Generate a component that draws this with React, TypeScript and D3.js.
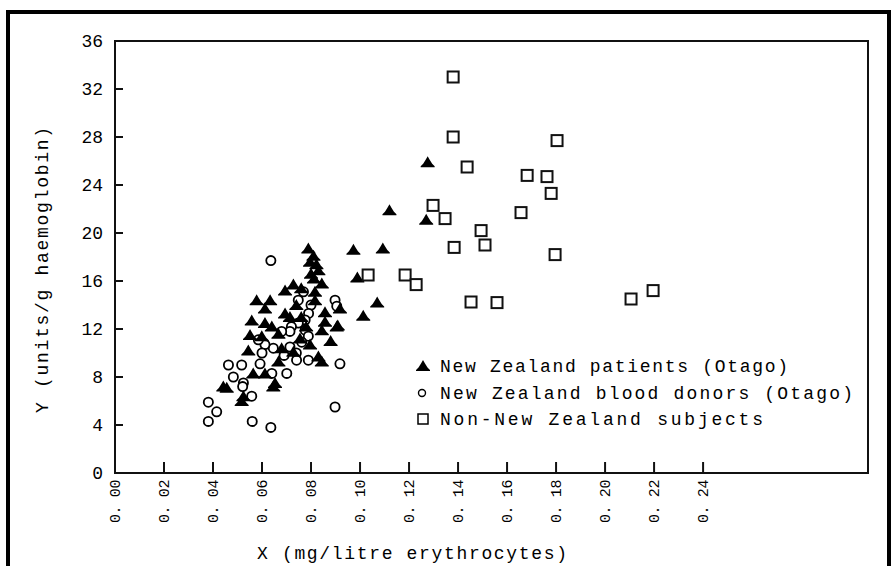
import React from 'react';
import * as d3 from 'd3';

// Axis ticks
const yTicks = [0, 4, 8, 12, 16, 20, 24, 28, 32, 36];
const xTicks = [0, 0.02, 0.04, 0.06, 0.08, 0.1, 0.12, 0.14, 0.16, 0.18, 0.2, 0.22, 0.24];

// New Zealand patients (Otago)
const patients: [number, number][] = [
  [0.1276, 25.9], [0.112, 21.9], [0.127, 21.1], [0.0973, 18.6], [0.1093, 18.7],
  [0.0989, 16.3], [0.107, 14.2], [0.1013, 13.1], [0.0909, 12.3],
  [0.0789, 18.7], [0.081, 18.1], [0.0796, 17.6], [0.0822, 17.4], [0.083, 16.9],
  [0.08, 16.6], [0.0812, 16.2],
  [0.0694, 15.2], [0.0728, 15.7], [0.0844, 15.8], [0.0816, 15.1], [0.076, 15.4],
  [0.0578, 14.4], [0.0633, 14.4], [0.0612, 13.7], [0.0816, 14.4], [0.0857, 13.4],
  [0.0918, 13.7], [0.074, 14.0],
  [0.0694, 13.3], [0.0714, 13.0], [0.0558, 12.7], [0.0612, 12.5], [0.064, 12.2],
  [0.0905, 12.2], [0.0857, 12.6], [0.076, 13.0], [0.078, 12.2],
  [0.0551, 11.5], [0.0599, 11.4], [0.0667, 11.6], [0.0755, 11.2], [0.0796, 10.7],
  [0.0844, 11.9], [0.088, 11.0],
  [0.0544, 10.2], [0.068, 10.4], [0.0728, 10.1], [0.083, 9.7], [0.0844, 9.3],
  [0.0667, 9.3],
  [0.0612, 8.3], [0.0564, 8.3], [0.0653, 7.5], [0.0442, 7.2], [0.0524, 6.4],
  [0.0456, 7.1], [0.0517, 6.0], [0.0646, 7.2],
];

// New Zealand blood donors (Otago)
const donors: [number, number][] = [
  [0.0636, 17.7], [0.0769, 15.1], [0.0748, 14.4], [0.0898, 14.4], [0.0905, 13.9],
  [0.08, 14.0], [0.079, 13.3],
  [0.0776, 12.75], [0.0748, 12.5], [0.072, 12.2], [0.0776, 11.9], [0.0714, 11.8],
  [0.068, 11.8], [0.0789, 11.4], [0.0762, 10.9], [0.0714, 10.5], [0.0646, 10.4],
  [0.0612, 10.7], [0.0585, 11.1], [0.06, 10.0], [0.069, 9.8], [0.074, 10.0],
  [0.0918, 9.1], [0.0741, 9.4], [0.0789, 9.4], [0.0463, 9.0], [0.0517, 9.0],
  [0.0592, 9.1], [0.0483, 8.0], [0.0524, 7.5], [0.064, 8.3], [0.0701, 8.3],
  [0.0558, 6.4], [0.0521, 7.2],
  [0.0381, 5.9], [0.0415, 5.1], [0.0381, 4.3], [0.056, 4.3], [0.0636, 3.8],
  [0.0898, 5.5],
];

// Non-New Zealand subjects
const others: [number, number][] = [
  [0.138, 33.0], [0.138, 28.0], [0.1804, 27.7], [0.1437, 25.5], [0.1682, 24.8],
  [0.1763, 24.7], [0.178, 23.3], [0.1298, 22.3], [0.1347, 21.2], [0.1657, 21.7],
  [0.1494, 20.2], [0.151, 19.0], [0.1384, 18.8], [0.1796, 18.2], [0.1033, 16.5],
  [0.1184, 16.5], [0.1229, 15.7], [0.1453, 14.25], [0.1559, 14.2], [0.2106, 14.5],
  [0.2196, 15.2],
];

const legendLabels = [
  'New Zealand patients (Otago)',
  'New Zealand blood donors (Otago)',
  'Non-New Zealand subjects',
];
const legendWidths = [348, 413, 323];

const xTitle = 'X (mg/litre erythrocytes)';
const yTitle = 'Y (units/g haemoglobin)';

const W = 893;
const H = 566;
const FONT = '"Liberation Mono", "Courier New", monospace';

const x = d3.scaleLinear().domain([0, 0.3073]).range([115, 868]);
const y = d3.scaleLinear().domain([0, 36]).range([473, 41]);

const fmtX = (v: number) => d3.format('.2f')(v).replace('.', '. ');

// Bell-shaped filled triangle
const triPath = (s: number) => {
  const k = s / 14;
  const pts = [
    [0, -6], [2, -2.5], [4.5, 1.5], [7, 4], [7, 5], [-7, 5], [-7, 4], [-4.5, 1.5], [-2, -2.5],
  ].map(([a, b]) => [a * k, b * k]);
  return 'M' + pts.map((p) => p.join(',')).join('L') + 'Z';
};

export default function App() {
  const [x0, x1] = x.range();
  const [y0, y1] = y.range();
  const legendX = 423;
  const legendY = [366, 393, 419];

  return (
    <svg
      width={W}
      height={H}
      viewBox={`0 0 ${W} ${H}`}
      style={{ position: 'absolute', left: 0, top: 0, background: '#fff' }}
      fontFamily={FONT}
    >
      <rect x={0} y={0} width={W} height={H} fill="#fff" />
      {/* outer frame */}
      <rect x={8} y={12} width={881} height={620} fill="none" stroke="#000" strokeWidth={4} />

      {/* plot box */}
      <rect x={x0} y={y1} width={x1 - x0} height={y0 - y1} fill="none" stroke="#111" strokeWidth={2} />

      {/* y ticks */}
      {yTicks.map((v) => (
        <g key={'y' + v}>
          {v > 0 && v < 36 && (
            <line x1={x0} x2={x0 + 8} y1={y(v)} y2={y(v)} stroke="#111" strokeWidth={2} />
          )}
          <text x={103} y={y(v) + 1} textAnchor="end" dominantBaseline="central" fontSize={18} fill="#000">
            {v}
          </text>
        </g>
      ))}

      {/* x ticks */}
      {xTicks.map((v) => (
        <g key={'x' + v}>
          {v > 0 && <line x1={x(v)} x2={x(v)} y1={y0} y2={y0 - 11} stroke="#111" strokeWidth={2} />}
          <text
            transform={`translate(${x(v) + 1},${y0 + 7}) rotate(-90)`}
            textAnchor="end"
            dominantBaseline="central"
            fontSize={15}
            letterSpacing={-0.4}
            fill="#000"
          >
            {fmtX(v)}
          </text>
        </g>
      ))}

      {/* axis titles */}
      <text x={412} y={559} textAnchor="middle" fontSize={18} textLength={310} lengthAdjust="spacing" fill="#000">
        {xTitle}
      </text>
      <text
        transform={`translate(43,270) rotate(-90)`}
        textAnchor="middle"
        dominantBaseline="central"
        fontSize={18}
        textLength={286}
        lengthAdjust="spacing"
        fill="#000"
      >
        {yTitle}
      </text>

      {/* donors */}
      {donors.map(([a, b], i) => (
        <circle key={'d' + i} cx={x(a)} cy={y(b)} r={4.6} fill="#fff" stroke="#000" strokeWidth={1.8} />
      ))}
      {/* patients */}
      {patients.map(([a, b], i) => (
        <path key={'p' + i} d={triPath(14)} transform={`translate(${x(a)},${y(b)})`} fill="#000" />
      ))}
      {/* non-NZ subjects */}
      {others.map(([a, b], i) => (
        <rect key={'o' + i} x={x(a) - 5.5} y={y(b) - 5.5} width={11} height={11} fill="#fff" stroke="#111" strokeWidth={2} />
      ))}

      {/* legend */}
      <path d={triPath(14)} transform={`translate(${legendX},${legendY[0]})`} fill="#000" />
      <circle cx={legendX - 1} cy={legendY[1]} r={3.5} fill="#fff" stroke="#000" strokeWidth={1.4} />
      <rect x={legendX - 5} y={legendY[2] - 5} width={10} height={10} fill="#fff" stroke="#000" strokeWidth={1.5} />
      {legendLabels.map((t, i) => (
        <text
          key={t}
          x={440}
          y={legendY[i] + 6}
          fontSize={18}
          textLength={legendWidths[i]}
          lengthAdjust="spacing"
          fill="#000"
        >
          {t}
        </text>
      ))}
    </svg>
  );
}
